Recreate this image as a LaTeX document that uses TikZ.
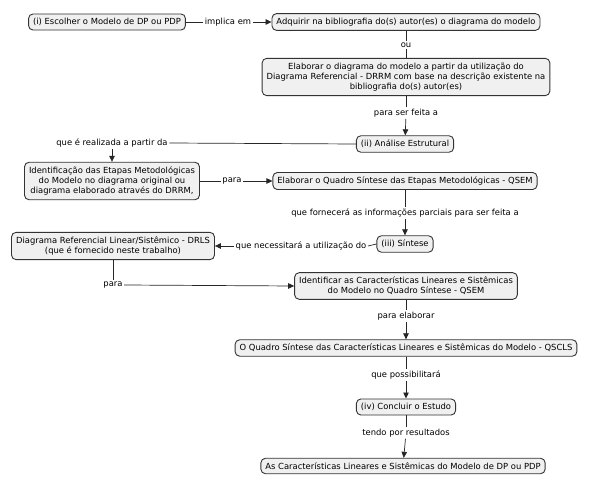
\documentclass[tikz,border=0pt]{standalone}
\usepackage{fontspec}
\setmainfont{DejaVu Sans}
\usetikzlibrary{arrows.meta}
\begin{document}
\begin{tikzpicture}[x=1pt,y=-1pt,
  box/.style={draw=black!80, fill=black!6, rounded corners=4.5pt, line width=0.9pt,
    align=center, inner xsep=4.5pt, inner ysep=4.3pt, font=\fontsize{8.4}{10.2}\selectfont},
  lab/.style={fill=white, inner sep=1.5pt, font=\fontsize{8.4}{10}\selectfont},
  con/.style={draw=black!85, line width=0.7pt},
  arr/.style={con, -{Triangle[length=6pt,width=5.5pt]}}]
\useasboundingbox (0,0) rectangle (600,489);
\node[box] (n1) at (107,22) {(i) Escolher o Modelo de DP ou PDP};
\node[box] (n2) at (406,22) {Adquirir na bibliografia do(s) autor(es) o diagrama do modelo};
\node[box] (n3) at (406,77) {Elaborar o diagrama do modelo a partir da utilização do\\Diagrama Referencial - DRRM com base na descrição existente na\\bibliografia do(s) autor(es)};
\node[box] (n4) at (405,144) {(ii) Análise Estrutural};
\node[box] (n5) at (112,181) {Identificação das Etapas Metodológicas\\do Modelo no diagrama original ou\\diagrama elaborado através do DRRM,};
\node[box] (n6) at (405,181) {Elaborar o Quadro Síntese das Etapas Metodológicas - QSEM};
\node[box] (n7) at (405,244) {(iii) Síntese};
\node[box] (n8) at (113,246) {Diagrama Referencial Linear/Sistêmico - DRLS\\(que é fornecido neste trabalho)};
\node[box] (n9) at (406,286) {Identificar as Características Lineares e Sistêmicas\\do Modelo no Quadro Síntese - QSEM};
\node[box] (n10) at (406,348) {O Quadro Síntese das Características Lineares e Sistêmicas do Modelo - QSCLS};
\node[box] (n11) at (406,407) {(iv) Concluir o Estudo};
\node[box] (n12) at (403,466) {As Características Lineares e Sistêmicas do Modelo de DP ou PDP};

\node[lab] (l1) at (228,22) {implica em};
\node[lab] (l2) at (406,45) {ou};
\node[lab] (l3) at (406,113) {para ser feita a};
\node[lab] (l4) at (112,143) {que é realizada a partir da};
\node[lab] (l5) at (232,181) {para};
\node[lab] (l6) at (405,213) {que fornecerá as informações parciais para ser feita a};
\node[lab] (l7) at (301,246) {que necessitará a utilização do};
\node[lab] (l8) at (113,285) {para};
\node[lab] (l9) at (406,316) {para elaborar};
\node[lab] (l10) at (406,375) {que possibilitará};
\node[lab] (l11) at (406,433) {tendo por resultados};

\path[con] (n1) -- (l1);
\path[arr] (l1) -- (n2);
\path[con] (n2) -- (l2);
\path[con] (l2) -- (n3);
\path[con] (n3) -- (l3);
\path[arr] (l3) -- (n4);
\path[con] (n4.west) -- (l4.east);
\path[arr] (l4.south) -- (n5.north);
\path[con] (n5) -- (l5);
\path[arr] (l5) -- (n6);
\path[con] (n6) -- (l6);
\path[arr] (l6) -- (n7);
\path[con] (n7.west) -- (l7.east);
\path[arr] (l7.west) -- (n8.east);
\path[con] (n8.south) -- (l8.north);
\path[arr] (l8.east) -- (n9.west);
\path[con] (n9) -- (l9);
\path[arr] (l9) -- (n10);
\path[con] (n10) -- (l10);
\path[arr] (l10) -- (n11);
\path[con] (n11) -- (l11);
\path[arr] (l11) -- (n12);
\end{tikzpicture}
\end{document}
